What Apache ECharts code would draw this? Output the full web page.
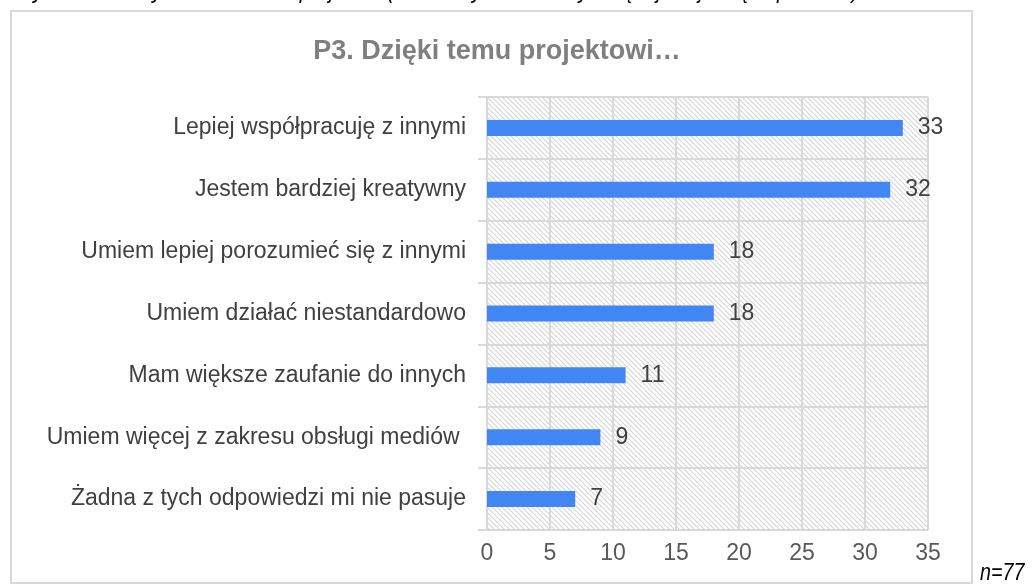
<!DOCTYPE html>
<html>
<head>
<meta charset="utf-8">
<script src="https://cdn.jsdelivr.net/npm/echarts@6/dist/echarts.min.js"></script>
<style>
  html, body { margin: 0; padding: 0; background: #fff; }
  #chart { width: 1032px; height: 588px; }
</style>
</head>
<body>
<div id="chart"></div>
<script>
// dane wykresu
var categories = [
    'Lepiej współpracuję z innymi',
    'Jestem bardziej kreatywny',
    'Umiem lepiej porozumieć się z innymi',
    'Umiem działać niestandardowo',
    'Mam większe zaufanie do innych',
    'Umiem więcej z zakresu obsługi mediów ',
    'Żadna z tych odpowiedzi mi nie pasuje'
];
var counts = [33, 32, 18, 18, 11, 9, 7];
var xTicks = [0, 5, 10, 15, 20, 25, 30, 35];

// tło z ukośnym kreskowaniem
function hatch() {
    var c = document.createElement('canvas');
    c.width = 5;
    c.height = 5;
    var ctx = c.getContext('2d');
    ctx.fillStyle = '#ffffff';
    ctx.fillRect(0, 0, 5, 5);
    ctx.strokeStyle = '#d6d6d6';
    ctx.lineWidth = 1.2;
    ctx.beginPath();
    ctx.moveTo(-1, -1); ctx.lineTo(6, 6);
    ctx.moveTo(-1, 4); ctx.lineTo(1, 6);
    ctx.moveTo(4, -1); ctx.lineTo(6, 1);
    ctx.stroke();
    return c;
}

var myChart = echarts.init(document.getElementById('chart'), null, { renderer: 'canvas' });
var gridColor = '#d9d9d9';
var font = 'Liberation Sans, Arial, sans-serif';

var option = {
    animation: false,
    backgroundColor: '#ffffff',
    title: {
        text: 'P3. Dzięki temu projektowi…',
        left: 492,
        top: 33,
        textAlign: 'center',
        textStyle: {
            fontFamily: font,
            fontWeight: 'bold',
            fontSize: 27,
            color: '#7f7f7f'
        }
    },
    graphic: [
        {
            type: 'rect',
            shape: { x: 11, y: 11, width: 961, height: 572 },
            style: { fill: 'none', stroke: gridColor, lineWidth: 2 },
            z: -1
        },
        {
            // ucięty podpis nad wykresem
            type: 'text',
            x: 14,
            y: 3,
            scaleX: 0.85,
            style: {
                text: 'Wykres 3. Korzyści z udziału w projekcie (można było zaznaczyć więcej niż jedną odpowiedź)',
                x: 0,
                y: 0,
                textVerticalAlign: 'bottom',
                font: 'italic 24px Liberation Sans, sans-serif',
                fill: '#000'
            }
        },
        {
            type: 'text',
            x: 980,
            y: 585,
            scaleX: 0.82,
            style: {
                text: 'n=77',
                x: 0,
                y: 0,
                textVerticalAlign: 'bottom',
                font: 'italic 24px Liberation Sans, sans-serif',
                fill: '#000'
            }
        }
    ],
    grid: {
        left: 487,
        right: 104,
        top: 97,
        bottom: 58,
        show: true,
        borderWidth: 0,
        backgroundColor: { image: hatch(), repeat: 'repeat' }
    },
    xAxis: {
        type: 'value',
        min: xTicks[0],
        max: xTicks[xTicks.length - 1],
        interval: 5,
        axisLine: { show: false },
        axisTick: { show: false },
        axisLabel: {
            margin: 12,
            fontFamily: font,
            fontSize: 23,
            color: '#595959'
        },
        splitLine: { show: true, lineStyle: { color: gridColor, width: 2 } }
    },
    yAxis: {
        type: 'category',
        inverse: true,
        data: categories,
        axisLine: { show: true, lineStyle: { color: gridColor, width: 2 } },
        axisTick: { show: true, length: 9, lineStyle: { color: gridColor, width: 2 } },
        splitLine: { show: true, lineStyle: { color: gridColor, width: 2 } },
        axisLabel: {
            margin: 21,
            fontFamily: font,
            fontSize: 23,
            color: '#404040'
        }
    },
    series: [{
        type: 'bar',
        data: counts,
        barWidth: 16,
        itemStyle: { color: '#4286f4' },
        label: {
            show: true,
            position: 'right',
            distance: 15,
            fontFamily: font,
            fontSize: 23,
            color: '#404040'
        }
    }]
};
myChart.setOption(option);
</script>
</body>
</html>
